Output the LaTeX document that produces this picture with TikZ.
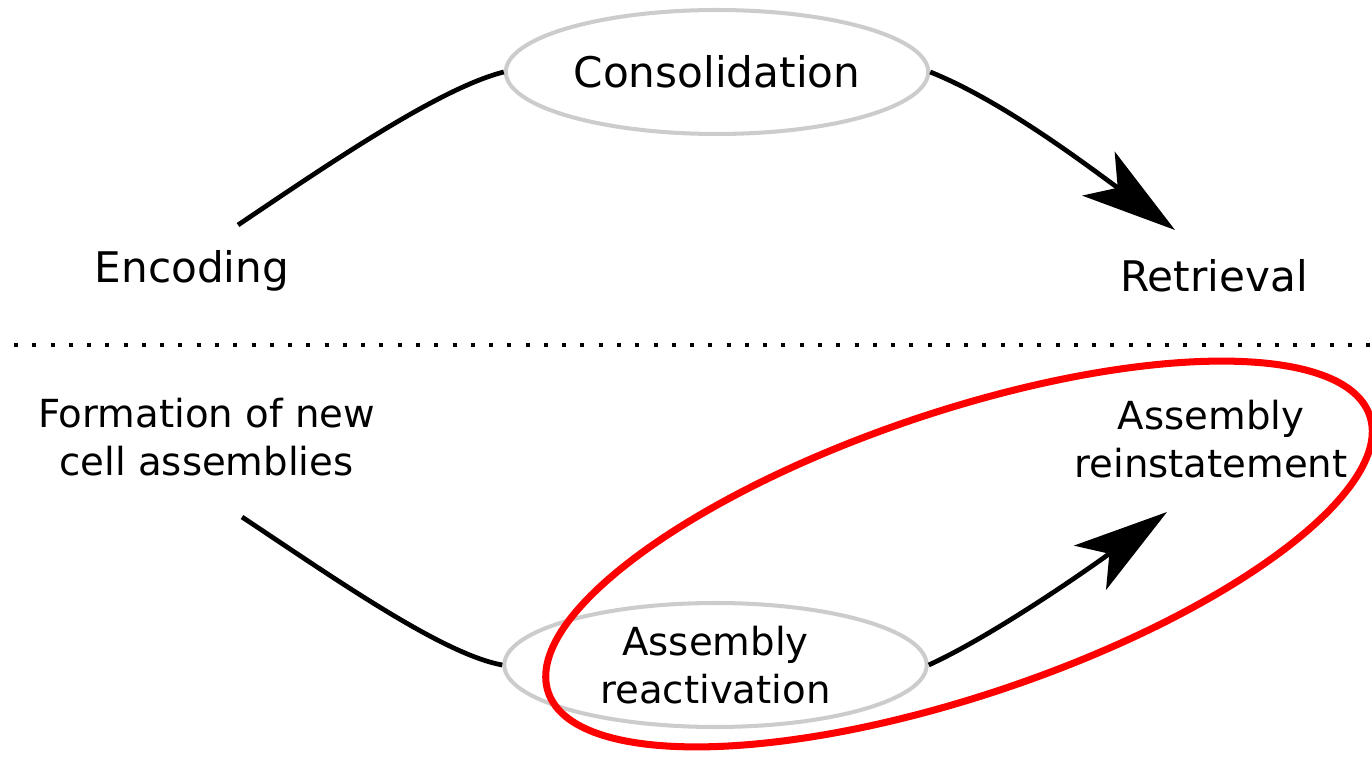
\documentclass[tikz,border=0pt]{standalone}
\usepackage{fontspec}
\setmainfont{DejaVu Sans}
\usetikzlibrary{shapes.geometric, arrows.meta}
\tikzset{
  % stage ellipses and text labels
  stage/.style={ellipse, draw=gray!40, line width=2.3pt, minimum width=8.45cm, minimum height=2.48cm, inner sep=0pt, align=center},
  phase/.style={align=center, inner sep=0pt, anchor=base},
  bigtext/.style={font=\fontsize{24}{29}\selectfont},
  smalltext/.style={font=\fontsize{22}{27.4}\selectfont},
  % connectors
  link/.style={line width=2.7pt},
  flow/.style={line width=2.7pt, -{Stealth[length=54pt, width=31pt, inset=13.5pt]}},
  % highlight and divider
  focus/.style={ellipse, draw=red, line width=4pt, minimum width=17.34cm, minimum height=5.68cm, inner sep=0pt, rotate=18.6},
  divider/.style={line width=2.3pt, dash pattern=on 2.3pt off 8.1pt},
}
\begin{document}
\begin{tikzpicture}[x=0.02cm, y=-0.02cm]
    \useasboundingbox (0,0) rectangle (1372,759);

    % Top row
    \node[stage, bigtext] (cons) at (717,72) {Consolidation};
    \node[phase, bigtext] (enc) at (192,283) {Encoding};
    \node[phase, bigtext] (retr) at (1214,292) {Retrieval};
    \coordinate (encout) at (238,225);
    \coordinate (retrin) at (1175,230);

    % Divider
    \coordinate (dotl) at (14,345);
    \coordinate (dotr) at (1372,345);
    \draw[divider] (dotl) -- (dotr);

    % Bottom row
    \node[stage, smalltext] (react) at (715.5,665) {Assembly\\reactivation};
    \node[phase, smalltext] (form) at (206.5,476) {Formation of new\\cell assemblies};
    \node[phase, smalltext] (reinst) at (1211,478) {Assembly\\reinstatement};
    \coordinate (formout) at (242,517);
    \coordinate (reinstin) at (1167,512);

    % === Arrows ===
    \draw[link] (encout) .. controls (330,163) and (440,88) .. (cons.west);
    \draw[flow] (cons.east) .. controls (1000,100) and (1080,160) .. (retrin);
    \draw[link] (formout) .. controls (334,578) and (442,654) .. (react.west);
    \draw[flow] (react.east) .. controls (990,637) and (1080,575) .. (reinstin);

    % Highlight
    \node[focus] (hl) at (959,554) {};
  \end{tikzpicture}
\end{document}
